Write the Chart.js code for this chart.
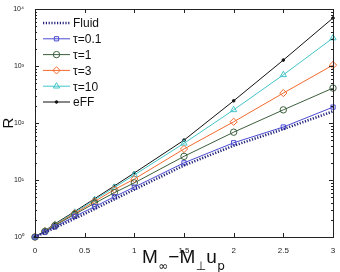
<!DOCTYPE html>
<html>
<head>
<meta charset="utf-8">
<script src="https://cdn.jsdelivr.net/npm/chart.js@4"></script>
<style>
  html, body { margin: 0; padding: 0; background: #fff; }
  #wrap { width: 340px; height: 272px; position: relative; }
</style>
</head>
<body>
<div id="wrap"><canvas id="chart"></canvas></div>
<script>
// x positions of the computed points
const xValues = [0, 0.1, 0.2, 0.4, 0.6, 0.8, 1, 1.5, 2, 2.5, 3];

// R
const fluid = [1, 1.2, 1.45, 2.1, 3.1, 4.6, 6.8, 18, 40, 78, 160];
const tau01 = [1, 1.22, 1.5, 2.3, 3.4, 5.1, 7.5, 20, 45, 85, 190];
const tau1 = [1, 1.25, 1.58, 2.5, 3.9, 6.0, 8.9, 26, 69, 170, 410];
const tau3 = [1, 1.27, 1.62, 2.6, 4.2, 6.8, 10.4, 35, 105, 335, 1040];
const tau10 = [1, 1.28, 1.66, 2.7, 4.5, 7.4, 12.3, 44, 170, 700, 3100];
const eff = [1, 1.29, 1.7, 2.8, 4.7, 7.9, 13.3, 50, 245, 1270, 6950];

const seriesNames = ['Fluid', 'τ=0.1', 'τ=1', 'τ=3', 'τ=10', 'eFF'];
const xTicks = [0, 0.5, 1, 1.5, 2, 2.5, 3];
const yTickLabels = { 1: '10⁰', 10: '10¹', 100: '10²', 1000: '10³', 10000: '10⁴' };

const pts = arr => arr.map((v, i) => ({ x: xValues[i], y: v }));

const styles = [
    { color: '#23237a', point: false, dash: [1.2, 1.6], width: 2.6 },
    { color: '#4b4bd2', point: 'rect', radius: 3 },
    { color: '#3c5e3c', point: 'circle', radius: 3.2 },
    { color: '#f26a2e', point: 'rectRot', radius: 3.6 },
    { color: '#43c4c8', point: 'triangle', radius: 3.6 },
    { color: '#111111', point: 'circle', radius: 1.3, fill: true }
];
const seriesData = [fluid, tau01, tau1, tau3, tau10, eff];

const datasets = seriesData.map((d, i) => {
    const s = styles[i];
    return {
        label: seriesNames[i],
        data: pts(d),
        borderColor: s.color,
        backgroundColor: s.fill ? s.color : 'rgba(255,255,255,0)',
        borderWidth: s.width || 1,
        borderDash: s.dash || [],
        pointStyle: s.point || 'circle',
        pointRadius: s.point ? s.radius : 0,
        pointBorderWidth: 1,
        pointBorderColor: s.color,
        clip: false,
        tension: 0
    };
});

// box, inward ticks, legend and axis titles
const decorPlugin = {
    id: 'decor',
    afterDraw(chart) {
        const ctx = chart.ctx;
        const a = chart.chartArea;
        const xs = chart.scales.x, ys = chart.scales.y;
        ctx.save();
        ctx.strokeStyle = '#222';
        ctx.lineWidth = 1;
        ctx.strokeRect(a.left + 0.5, a.top + 0.5, a.right - a.left, a.bottom - a.top);

        ctx.beginPath();
        xTicks.forEach(t => {
            const px = Math.round(xs.getPixelForValue(t)) + 0.5;
            ctx.moveTo(px, a.bottom); ctx.lineTo(px, a.bottom - 4);
            ctx.moveTo(px, a.top); ctx.lineTo(px, a.top + 4);
        });
        for (let dec = 1; dec < 10000; dec *= 10) {
            for (let m = 1; m < 10; m++) {
                const py = Math.round(ys.getPixelForValue(dec * m)) + 0.5;
                const len = m === 1 ? 4 : 2;
                ctx.moveTo(a.left, py); ctx.lineTo(a.left + len, py);
                ctx.moveTo(a.right, py); ctx.lineTo(a.right - len, py);
            }
        }
        ctx.stroke();

        // legend
        const lx = a.left + 8, ly0 = 23, step = 15.8;
        ctx.font = '12px "Liberation Sans", Arial, sans-serif';
        ctx.textBaseline = 'middle';
        chart.data.datasets.forEach((ds, i) => {
            const y = ly0 + i * step;
            ctx.strokeStyle = ds.borderColor;
            ctx.lineWidth = ds.borderWidth;
            ctx.setLineDash(ds.borderDash);
            ctx.beginPath();
            ctx.moveTo(lx, y); ctx.lineTo(lx + 27, y);
            ctx.stroke();
            ctx.setLineDash([]);
            if (ds.pointRadius > 0) {
                ctx.lineWidth = 1;
                ctx.fillStyle = ds.backgroundColor;
                Chart.helpers.drawPoint(ctx, {
                    pointStyle: ds.pointStyle, radius: ds.pointRadius, borderWidth: 1
                }, lx + 13.5, y);
            }
            ctx.fillStyle = '#111';
            ctx.fillText(ds.label, lx + 30, y + 1);
        });

        // y title
        ctx.fillStyle = '#111';
        ctx.save();
        ctx.translate(13, 123);
        ctx.rotate(-Math.PI / 2);
        ctx.font = '15px "Liberation Sans", Arial, sans-serif';
        ctx.textAlign = 'center';
        ctx.textBaseline = 'alphabetic';
        ctx.fillText('R', 0, 0);
        ctx.restore();

        // x title with subscripts
        const parts = [
            ['M', 0], ['∞', 1], ['−M', 0], ['⊥', 1], ['u', 0], ['p', 1]
        ];
        const big = '19px "Liberation Sans", Arial, sans-serif';
        const small = '12px "DejaVu Sans", sans-serif';
        ctx.textBaseline = 'alphabetic';
        let x = 142;
        parts.forEach(([t, sub]) => {
            ctx.font = sub ? small : big;
            ctx.fillText(t, x, sub ? 270 : 263);
            x += ctx.measureText(t).width + (sub ? 0 : 0.5);
        });
        ctx.restore();
    }
};

new Chart(document.getElementById('chart'), {
    type: 'line',
    data: { datasets },
    options: {
        responsive: true,
        maintainAspectRatio: false,
        animation: false,
        layout: { padding: { left: 0, right: 7, top: 9, bottom: 0 } },
        plugins: { legend: { display: false }, tooltip: { enabled: false } },
        scales: {
            x: {
                type: 'linear',
                min: 0, max: 3,
                afterBuildTicks: scale => { scale.ticks = xTicks.map(v => ({ value: v })); },
                afterFit: scale => { scale.height = 35; },
                grid: { display: false },
                border: { display: false },
                ticks: {
                    padding: 1,
                    font: { size: 8, family: '"Liberation Sans", Arial, sans-serif' },
                    color: '#222',
                    maxRotation: 0,
                    callback: v => String(v)
                }
            },
            y: {
                type: 'logarithmic',
                min: 1, max: 10000,
                afterBuildTicks: scale => {
                    scale.ticks = Object.keys(yTickLabels).map(v => ({ value: Number(v) }));
                },
                afterFit: scale => { scale.width = 35; },
                grid: { display: false },
                border: { display: false },
                ticks: {
                    padding: 3,
                    font: { size: 7, family: '"Liberation Sans", Arial, sans-serif' },
                    color: '#222',
                    callback: v => yTickLabels[v] || ''
                }
            }
        }
    },
    plugins: [decorPlugin]
});
</script>
</body>
</html>
